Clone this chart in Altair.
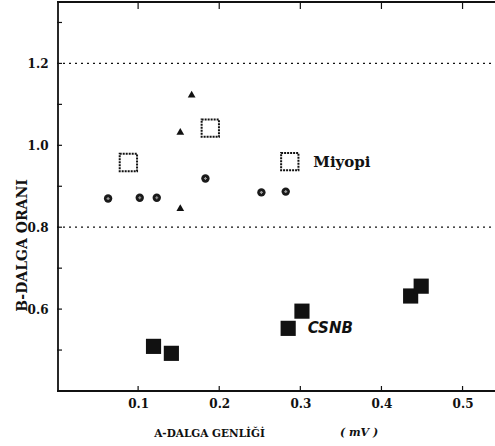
import altair as alt
import pandas as pd

# Miyopi (open squares)
miy_x = [0.088, 0.189, 0.287]
miy_y = [0.958, 1.042, 0.960]
# flower points
flo_x = [0.063, 0.102, 0.123, 0.183, 0.252, 0.282]
flo_y = [0.870, 0.872, 0.872, 0.919, 0.885, 0.887]
# triangles
tri_x = [0.166, 0.152, 0.152]
tri_y = [1.125, 1.034, 0.848]
# CSNB (filled squares)
csnb_x = [0.119, 0.141, 0.285, 0.302, 0.436, 0.449]
csnb_y = [0.509, 0.492, 0.553, 0.595, 0.632, 0.656]

x_ticks = [0.1, 0.2, 0.3, 0.4, 0.5]
y_ticks = [0.6, 0.8, 1.0, 1.2]
y_minor = [0.5, 0.6, 0.7, 0.8, 0.9, 1.0, 1.1, 1.2, 1.3]
grid_y = [1.2, 0.8]

lab_text = ["Miyopi", "CSNB"]
lab_x = [0.316, 0.309]
lab_y = [0.960, 0.553]

W, H = 438, 389
xs = alt.Scale(domain=[0, 0.54], nice=False, zero=False)
ys = alt.Scale(domain=[0.4, 1.35], nice=False, zero=False)
SERIF = "DejaVu Serif"

base_x = alt.X("x:Q", scale=xs, axis=alt.Axis(
    values=x_ticks, format=".1f", title="A-DALGA GENLİĞİ", grid=False,
    ticks=False, domain=False, labelPadding=7, labelFont=SERIF, labelFontSize=12,
    labelFontWeight="bold", labelColor="#111",
    titleFont=SERIF, titleFontSize=10.5, titleFontWeight="bold", titleColor="#111",
    titleX=152, titleY=42, titleBaseline="middle", titleAlign="center"))
base_y = alt.Y("y:Q", scale=ys, axis=alt.Axis(
    values=y_ticks, format=".1f", title="B-DALGA ORANI", grid=False,
    ticks=False, domain=False, labelPadding=9, labelFont=SERIF, labelFontSize=12,
    labelFontWeight="bold", labelColor="#111",
    titleFont=SERIF, titleFontSize=14, titleFontWeight="bold", titleColor="#111",
    titleX=-35, titleY=243, titleAngle=270, titleBaseline="middle", titleAlign="center"))

# frame (left, top, bottom)
frame_l = alt.Chart(pd.DataFrame({"y": [0.4], "y2": [1.35]})).mark_rule(
    color="#111", strokeWidth=1.8).encode(
    y=alt.Y("y:Q", scale=ys), y2="y2:Q", x=alt.value(1))
frame_tb = alt.Chart(pd.DataFrame({"y": [0.4, 1.35]})).mark_rule(
    color="#111", strokeWidth=1.8).encode(
    y=alt.Y("y:Q", scale=ys), x=alt.value(0), x2=alt.value(W + 10))

df_grid = pd.DataFrame({"y": grid_y})
grid = alt.Chart(df_grid).mark_rule(color="#111", strokeWidth=1.3, strokeDash=[2, 4]).encode(
    y=alt.Y("y:Q", scale=ys), x=alt.value(0), x2=alt.value(W + 10))

df_ymin = pd.DataFrame({"y": y_minor})
yt = alt.Chart(df_ymin).mark_rule(color="#111", strokeWidth=1.2).encode(
    y=alt.Y("y:Q", scale=ys), x=alt.value(0), x2=alt.value(5))
df_xt = pd.DataFrame({"x": x_ticks})
xtb = alt.Chart(df_xt).mark_rule(color="#111", strokeWidth=1.2).encode(
    x=alt.X("x:Q", scale=xs), y=alt.value(H), y2=alt.value(H - 5))
xtt = alt.Chart(df_xt).mark_rule(color="#111", strokeWidth=1.2).encode(
    x=alt.X("x:Q", scale=xs), y=alt.value(1), y2=alt.value(7))

df_miy = pd.DataFrame({"x": miy_x, "y": miy_y})
miy = alt.Chart(df_miy).mark_point(shape="square", size=300, filled=False,
                                   stroke="#111", strokeWidth=2, strokeDash=[2, 1],
                                   opacity=1).encode(x=base_x, y=base_y)

df_flo = pd.DataFrame({"x": flo_x, "y": flo_y})
flo = alt.Chart(df_flo).mark_point(shape="circle", size=70, filled=True,
                                   color="#1a1a1a", opacity=1).encode(
    x=alt.X("x:Q", scale=xs), y=alt.Y("y:Q", scale=ys))
flo_c = alt.Chart(df_flo).mark_point(shape="cross", size=9, filled=True,
                                     color="#9a9a9a", opacity=1).encode(
    x=alt.X("x:Q", scale=xs), y=alt.Y("y:Q", scale=ys))

df_tri = pd.DataFrame({"x": tri_x, "y": tri_y})
tri = alt.Chart(df_tri).mark_point(shape="triangle-up", size=60, filled=True,
                                   color="#111", opacity=1).encode(
    x=alt.X("x:Q", scale=xs), y=alt.Y("y:Q", scale=ys))

df_csnb = pd.DataFrame({"x": csnb_x, "y": csnb_y})
csnb = alt.Chart(df_csnb).mark_point(shape="square", size=230, filled=True,
                                     color="#111", opacity=1).encode(
    x=alt.X("x:Q", scale=xs), y=alt.Y("y:Q", scale=ys))

df_lab = pd.DataFrame({"x": lab_x, "y": lab_y, "t": lab_text})
lab1 = alt.Chart(df_lab[df_lab.t == "Miyopi"]).mark_text(
    align="left", baseline="middle", font=SERIF, fontSize=15, fontWeight="bold",
    color="#111").encode(x=alt.X("x:Q", scale=xs), y=alt.Y("y:Q", scale=ys), text="t:N")
lab2 = alt.Chart(df_lab[df_lab.t == "CSNB"]).mark_text(
    align="left", baseline="middle", font="DejaVu Sans", fontSize=15, fontStyle="italic",
    fontWeight="bold", color="#111").encode(
    x=alt.X("x:Q", scale=xs), y=alt.Y("y:Q", scale=ys), text="t:N")

unit = alt.Chart(pd.DataFrame({"t": ["( mV )"]})).mark_text(
    font=SERIF, fontSize=11, fontStyle="italic", fontWeight="bold", color="#111",
    baseline="middle").encode(text="t:N", x=alt.value(302), y=alt.value(H + 42))

chart = alt.layer(miy, frame_l, frame_tb, grid, yt, xtb, xtt, flo, flo_c, tri, csnb,
                  lab1, lab2, unit).properties(
    width=W, height=H, autosize=alt.AutoSizeParams(type="none"),
    padding={"left": 57, "top": 2, "right": 0, "bottom": 55},
    background="white"
).configure_view(stroke=None)

chart.save("out.html", embed_options={"renderer": "svg", "actions": False})
